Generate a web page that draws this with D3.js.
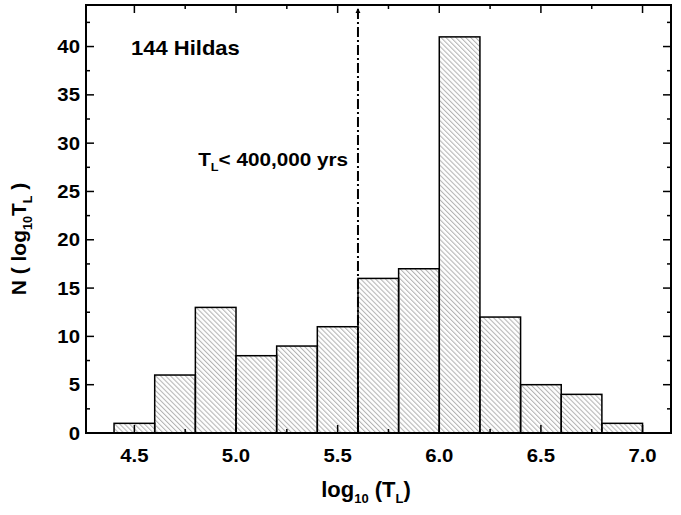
<!DOCTYPE html>
<html>
<head>
<meta charset="utf-8">
<script src="https://cdn.jsdelivr.net/npm/d3@7"></script>
<style>
  body { margin: 0; background: #fff; }
  svg text { font-family: "Liberation Sans", Arial, sans-serif; font-weight: bold; fill: #000; }
</style>
</head>
<body>
<div class="canvas"></div>
<script>
// histogram data: bin edges (log10 T_L) and counts per bin
const binEdges = [4.4, 4.6, 4.8, 5.0, 5.2, 5.4, 5.6, 5.8, 6.0, 6.2, 6.4, 6.6, 6.8, 7.0];
const counts = [1, 6, 13, 8, 9, 11, 16, 17, 41, 12, 5, 4, 1];
const xTicks = [4.5, 5.0, 5.5, 6.0, 6.5, 7.0];
const yTicks = [0, 5, 10, 15, 20, 25, 30, 35, 40];
const cutoff = 5.6; // T_L < 400,000 yrs

// margins and dimensions
const w = 681;
const h = 515;
const margin = { top: 5, right: 10, bottom: 82, left: 86 };
const width = w - margin.left - margin.right;
const height = h - margin.top - margin.bottom;

const svg = d3.select(".canvas").append("svg").attr("width", w).attr("height", h);

// hatch pattern for the bars
const defs = svg.append("defs");
defs
  .append("pattern")
  .attr("id", "hatch")
  .attr("patternUnits", "userSpaceOnUse")
  .attr("width", 3.5)
  .attr("height", 10)
  .attr("patternTransform", "rotate(-45)")
  .append("line")
  .attr("x1", 0.6)
  .attr("y1", 0)
  .attr("x2", 0.6)
  .attr("y2", 10)
  .attr("stroke", "#9a9a9a")
  .attr("stroke-width", 0.85);

const graph = svg.append("g").attr("transform", `translate(${margin.left}, ${margin.top})`);

const x = d3.scaleLinear().domain([4.262, 7.14]).range([0, width]);
const y = d3.scaleLinear().domain([0, 44.3]).range([height, 0]);

const bins = counts.map((c, i) => ({ x0: binEdges[i], x1: binEdges[i + 1], n: c }));

// bars
graph
  .selectAll("rect.bar")
  .data(bins)
  .enter()
  .append("rect")
  .attr("class", "bar")
  .attr("x", (d) => x(d.x0))
  .attr("y", (d) => y(d.n))
  .attr("width", (d) => x(d.x1) - x(d.x0))
  .attr("height", (d) => y(0) - y(d.n))
  .attr("fill", "url(#hatch)")
  .attr("stroke", "#000")
  .attr("stroke-width", 1.5);

// ticks on all four sides, pointing inward
const xMinor = d3.range(4.5, 7.01, 0.25);
const yMinor = d3.range(0, 44.1, 2.5);
const xMaj = (v) => Math.abs(v * 2 - Math.round(v * 2)) < 1e-6;
const yMaj = (v) => v % 5 === 0;

const addTicks = (sel, vals, isMaj, scale, orient) => {
  sel
    .selectAll(null)
    .data(vals)
    .enter()
    .append("line")
    .attr("stroke", "#000")
    .attr("stroke-width", 1.5)
    .each(function (v) {
      const len = isMaj(v) ? 8 : 4;
      const p = scale(v);
      const el = d3.select(this);
      if (orient === "bottom") el.attr("x1", p).attr("x2", p).attr("y1", height).attr("y2", height - len);
      if (orient === "top") el.attr("x1", p).attr("x2", p).attr("y1", 0).attr("y2", len);
      if (orient === "left") el.attr("y1", p).attr("y2", p).attr("x1", 0).attr("x2", len);
      if (orient === "right") el.attr("y1", p).attr("y2", p).attr("x1", width).attr("x2", width - len);
    });
};
const ticks = graph.append("g");
addTicks(ticks, xMinor, xMaj, x, "bottom");
addTicks(ticks, xMinor, xMaj, x, "top");
addTicks(ticks, yMinor, yMaj, y, "left");
addTicks(ticks, yMinor, yMaj, y, "right");

// frame
graph
  .append("rect")
  .attr("width", width)
  .attr("height", height)
  .attr("fill", "none")
  .attr("stroke", "#000")
  .attr("stroke-width", 2);

// the original font is a bit wider than Liberation Sans, so stretch text horizontally
const sx = 1.1;

// tick labels
graph
  .selectAll("text.xt")
  .data(xTicks)
  .enter()
  .append("text")
  .attr("class", "xt")
  .attr("transform", (d) => `translate(${x(d)}, ${height + 28.5}) scale(${sx}, 1)`)
  .attr("text-anchor", "middle")
  .style("font-size", "18.5px")
  .text((d) => d.toFixed(1));

graph
  .selectAll("text.yt")
  .data(yTicks)
  .enter()
  .append("text")
  .attr("class", "yt")
  .attr("transform", (d) => `translate(-6, ${y(d) + 6.6}) scale(${sx}, 1)`)
  .attr("text-anchor", "end")
  .style("font-size", "18.5px")
  .text((d) => d);

// cutoff line with arrow
defs
  .append("marker")
  .attr("id", "arrow")
  .attr("viewBox", "0 0 10 10")
  .attr("refX", 10)
  .attr("refY", 5)
  .attr("markerWidth", 5)
  .attr("markerHeight", 6)
  .attr("markerUnits", "userSpaceOnUse")
  .attr("orient", "auto")
  .append("path")
  .attr("d", "M0,0 L10,5 L0,10 z")
  .attr("fill", "#000");

graph
  .append("line")
  .attr("x1", x(cutoff))
  .attr("x2", x(cutoff))
  .attr("y1", y(0))
  .attr("y2", 3)
  .attr("stroke", "#000")
  .attr("stroke-width", 2)
  .attr("stroke-dasharray", "10,3,2,3")
  .attr("marker-end", "url(#arrow)");

// annotations
const lbl = graph
  .append("text")
  .attr("transform", `translate(${x(cutoff) - 10}, 161) scale(1.15, 1)`)
  .attr("text-anchor", "end")
  .style("font-size", "18px");
lbl.append("tspan").text("T");
lbl.append("tspan").attr("dy", 5).style("font-size", "11px").text("L");
lbl.append("tspan").attr("dy", -5).text("< 400,000 yrs");

graph
  .append("text")
  .attr("transform", `translate(${131 - margin.left}, ${55 - margin.top}) scale(${sx}, 1)`)
  .style("font-size", "20px")
  .text("144 Hildas");

// x axis title
const xl = svg
  .append("text")
  .attr("x", 366)
  .attr("y", 497)
  .attr("text-anchor", "middle")
  .style("font-size", "22px");
xl.append("tspan").text("log");
xl.append("tspan").attr("dy", 6).style("font-size", "13px").text("10");
xl.append("tspan").attr("dy", -6).text(" (T");
xl.append("tspan").attr("dy", 6).style("font-size", "13px").text("L");
xl.append("tspan").attr("dy", -6).text(")");

// y axis title
const yl = svg
  .append("text")
  .attr("transform", "translate(26, 239) rotate(-90) scale(1.05, 1)")
  .attr("text-anchor", "middle")
  .style("font-size", "20px");
yl.append("tspan").text("N ( log");
yl.append("tspan").attr("dy", 6).style("font-size", "12px").text("10");
yl.append("tspan").attr("dy", -6).text("T");
yl.append("tspan").attr("dy", 6).style("font-size", "12px").text("L");
yl.append("tspan").attr("dy", -6).text(" )");
</script>
</body>
</html>
